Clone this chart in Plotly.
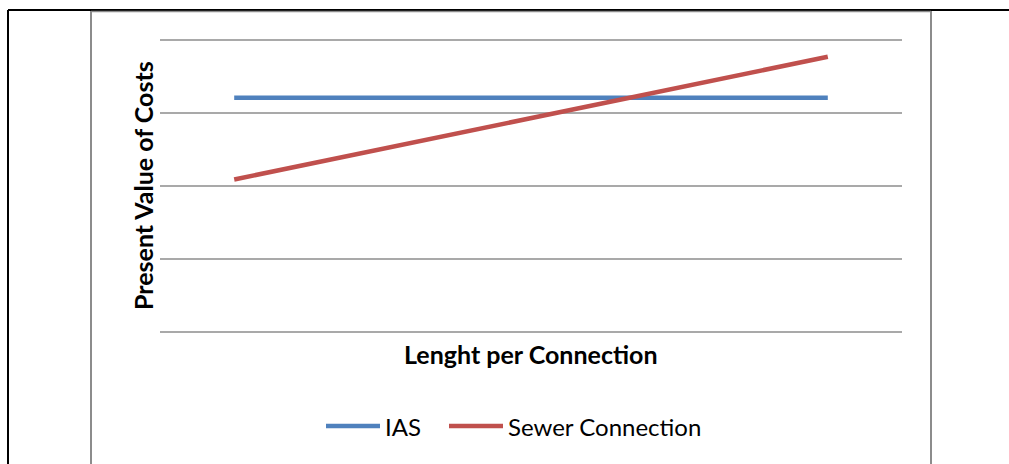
import plotly.graph_objects as go

# Data
categories = [1, 2, 3, 4, 5]
ias_costs = [3.21, 3.21, 3.21, 3.21, 3.21]
sewer_costs = [2.09, 2.51, 2.93, 3.35, 3.77]
series_names = ["IAS", "Sewer Connection"]
series_colors = ["#4F81BD", "#C0504D"]
x_title = "Lenght per Connection"
y_title = "Present Value of Costs"
y_grid = [0, 1, 2, 3, 4]

W, H = 1009, 464
L, R, T, B = 160, 902, 40, 332
Y_MIN, Y_MAX = 0, 4
FONT = "Lato, 'Open Sans', sans-serif"
GRID = "#8c8c8c"


def px(x):
    return (x - L) / (R - L)


def py(y):
    return (B - y) / (B - T)


fig = go.Figure()
for name, vals, col in zip(series_names, [ias_costs, sewer_costs], series_colors):
    fig.add_trace(go.Scatter(
        x=categories, y=vals, mode="lines", name=name,
        line=dict(color=col, width=4.5), showlegend=False,
    ))

shapes = []
# horizontal gridlines (paper-referenced so the edge lines are not clipped)
for g in y_grid:
    yp = (g - Y_MIN) / (Y_MAX - Y_MIN)
    shapes.append(dict(type="line", xref="paper", yref="paper", layer="below",
                       x0=0, x1=1, y0=yp, y1=yp,
                       line=dict(color=GRID, width=1.6)))

# frame lines around the chart
shapes.append(dict(type="line", xref="paper", yref="paper",
                   x0=px(8), x1=px(8), y0=py(10), y1=py(470),
                   line=dict(color="black", width=2)))
shapes.append(dict(type="line", xref="paper", yref="paper",
                   x0=px(8), x1=px(1015), y0=py(10), y1=py(10),
                   line=dict(color="black", width=2)))
shapes.append(dict(type="line", xref="paper", yref="paper",
                   x0=px(91), x1=px(931), y0=py(11.5), y1=py(11.5),
                   line=dict(color=GRID, width=1.5)))
for xv in (91, 931):
    shapes.append(dict(type="line", xref="paper", yref="paper",
                       x0=px(xv), x1=px(xv), y0=py(11), y1=py(470),
                       line=dict(color=GRID, width=2)))

# legend samples
legend_items = [(326, 380, 383), (449, 503, 506)]
annotations = []
for (x0, x1, xt), name, col in zip(legend_items, series_names, series_colors):
    shapes.append(dict(type="line", xref="paper", yref="paper",
                       x0=px(x0), x1=px(x1), y0=py(426), y1=py(426),
                       line=dict(color=col, width=4.5)))
    annotations.append(dict(text=name, xref="paper", yref="paper",
                            x=px(xt), y=py(426), xanchor="left", yanchor="middle",
                            showarrow=False, font=dict(family=FONT, size=24, color="black")))

annotations.append(dict(text="<b>" + x_title + "</b>", xref="paper", yref="paper",
                        x=px(531), y=py(354), xanchor="center", yanchor="middle",
                        showarrow=False, font=dict(family=FONT, size=25, color="black")))
annotations.append(dict(text="<b>" + y_title + "</b>", xref="paper", yref="paper",
                        x=px(143), y=py(186), xanchor="center", yanchor="middle",
                        textangle=-90, showarrow=False,
                        font=dict(family=FONT, size=25, color="black")))

fig.update_layout(
    width=W, height=H,
    margin=dict(l=L, r=W - R, t=T, b=H - B),
    paper_bgcolor="white", plot_bgcolor="white",
    showlegend=False,
    shapes=shapes, annotations=annotations,
    xaxis=dict(range=[0.5, 5.5], showticklabels=False, showgrid=False,
               zeroline=False, ticks="", fixedrange=True),
    yaxis=dict(range=[Y_MIN, Y_MAX], showticklabels=False, showgrid=False,
               zeroline=False, ticks="", fixedrange=True),
)

fig.write_html("out.html")
